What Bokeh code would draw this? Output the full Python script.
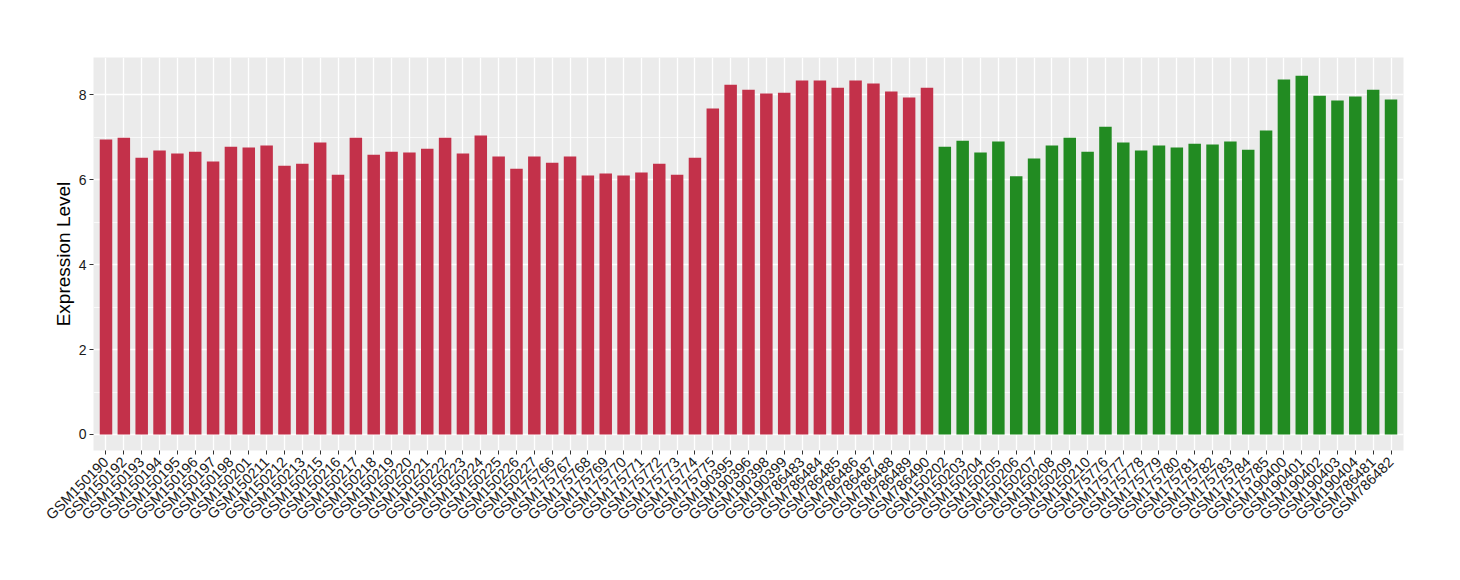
import math
from bokeh.plotting import figure
from bokeh.models import FactorRange, Range1d, SingleIntervalTicker, ColumnDataSource
from bokeh.embed import file_html
from bokeh.resources import INLINE

group1_samples = [
    "GSM150190", "GSM150192", "GSM150193", "GSM150194", "GSM150195", "GSM150196",
    "GSM150197", "GSM150198", "GSM150201", "GSM150211", "GSM150212", "GSM150213",
    "GSM150215", "GSM150216", "GSM150217", "GSM150218", "GSM150219", "GSM150220",
    "GSM150221", "GSM150222", "GSM150223", "GSM150224", "GSM150225", "GSM150226",
    "GSM150227", "GSM175766", "GSM175767", "GSM175768", "GSM175769", "GSM175770",
    "GSM175771", "GSM175772", "GSM175773", "GSM175774", "GSM175775", "GSM190395",
    "GSM190396", "GSM190398", "GSM190399", "GSM786483", "GSM786484", "GSM786485",
    "GSM786486", "GSM786487", "GSM786488", "GSM786489", "GSM786490",
]
group1_values = [
    6.95, 6.99, 6.52, 6.69, 6.62, 6.66, 6.43, 6.78, 6.76, 6.81, 6.33, 6.38,
    6.88, 6.12, 6.99, 6.59, 6.66, 6.64, 6.73, 6.99, 6.62, 7.04, 6.55, 6.26,
    6.55, 6.40, 6.55, 6.10, 6.15, 6.10, 6.17, 6.38, 6.12, 6.52, 7.68, 8.24,
    8.12, 8.03, 8.05, 8.34, 8.34, 8.17, 8.34, 8.27, 8.08, 7.94, 8.17,
]
group2_samples = [
    "GSM150202", "GSM150203", "GSM150204", "GSM150205", "GSM150206", "GSM150207",
    "GSM150208", "GSM150209", "GSM150210", "GSM175776", "GSM175777", "GSM175778",
    "GSM175779", "GSM175780", "GSM175781", "GSM175782", "GSM175783", "GSM175784",
    "GSM175785", "GSM190400", "GSM190401", "GSM190402", "GSM190403", "GSM190404",
    "GSM786481", "GSM786482",
]
group2_values = [
    6.78, 6.92, 6.64, 6.90, 6.08, 6.50, 6.81, 6.99, 6.66, 7.25, 6.88, 6.69,
    6.81, 6.76, 6.85, 6.83, 6.90, 6.71, 7.16, 8.36, 8.45, 7.98, 7.87, 7.96,
    8.12, 7.89,
]
group_colors = ["#C3314A", "#228B22"]
y_ticks = [0, 2, 4, 6, 8]

samples = group1_samples + group2_samples
values = group1_values + group2_values
colors = [group_colors[0]] * len(group1_samples) + [group_colors[1]] * len(group2_samples)

source = ColumnDataSource(dict(sample=samples, value=values, color=colors))

p = figure(
    x_range=FactorRange(factors=samples, range_padding=0.2, range_padding_units="absolute"),
    y_range=Range1d(-0.377, 8.88),
    frame_width=1310, frame_height=393,
    min_border_left=93, min_border_right=41, min_border_top=57, min_border_bottom=114,
    output_backend="svg", toolbar_location=None,
    background_fill_color="#EBEBEB", border_fill_color="white",
)
p.outline_line_color = None

p.vbar(x="sample", top="value", bottom=0, width=0.7, fill_color="color",
       line_color=None, source=source)

FONT = "Liberation Sans"

# grid
p.xgrid.grid_line_color = "white"
p.xgrid.grid_line_width = 1.3
p.ygrid.grid_line_color = "white"
p.ygrid.grid_line_width = 1.3
p.ygrid.minor_grid_line_color = "white"
p.ygrid.minor_grid_line_width = 0.7

# y axis
p.yaxis.ticker = SingleIntervalTicker(interval=2, num_minor_ticks=2)
p.yaxis.axis_line_color = None
p.yaxis.major_tick_line_color = "#333333"
p.yaxis.major_tick_in = 0
p.yaxis.major_tick_out = 4
p.yaxis.minor_tick_line_color = None
p.yaxis.major_label_text_font = FONT
p.yaxis.major_label_text_font_size = "14px"
p.yaxis.major_label_text_color = "#1a1a1a"
p.yaxis.major_label_standoff = 3
p.yaxis.axis_label = "Expression Level"
p.yaxis.axis_label_text_font = FONT
p.yaxis.axis_label_text_font_size = "19px"
p.yaxis.axis_label_text_font_style = "normal"
p.yaxis.axis_label_text_color = "black"
p.yaxis.axis_label_standoff = 2

# x axis
p.xaxis.axis_line_color = None
p.xaxis.major_tick_line_color = "#333333"
p.xaxis.major_tick_in = 0
p.xaxis.major_tick_out = 4
p.xaxis.minor_tick_line_color = None
p.xaxis.major_label_orientation = math.pi / 4
p.xaxis.major_label_text_font = FONT
p.xaxis.major_label_text_font_size = "14.5px"
p.xaxis.major_label_text_color = "#1a1a1a"
p.xaxis.major_label_standoff = 5

open("out.html", "w").write(file_html(p, INLINE))
